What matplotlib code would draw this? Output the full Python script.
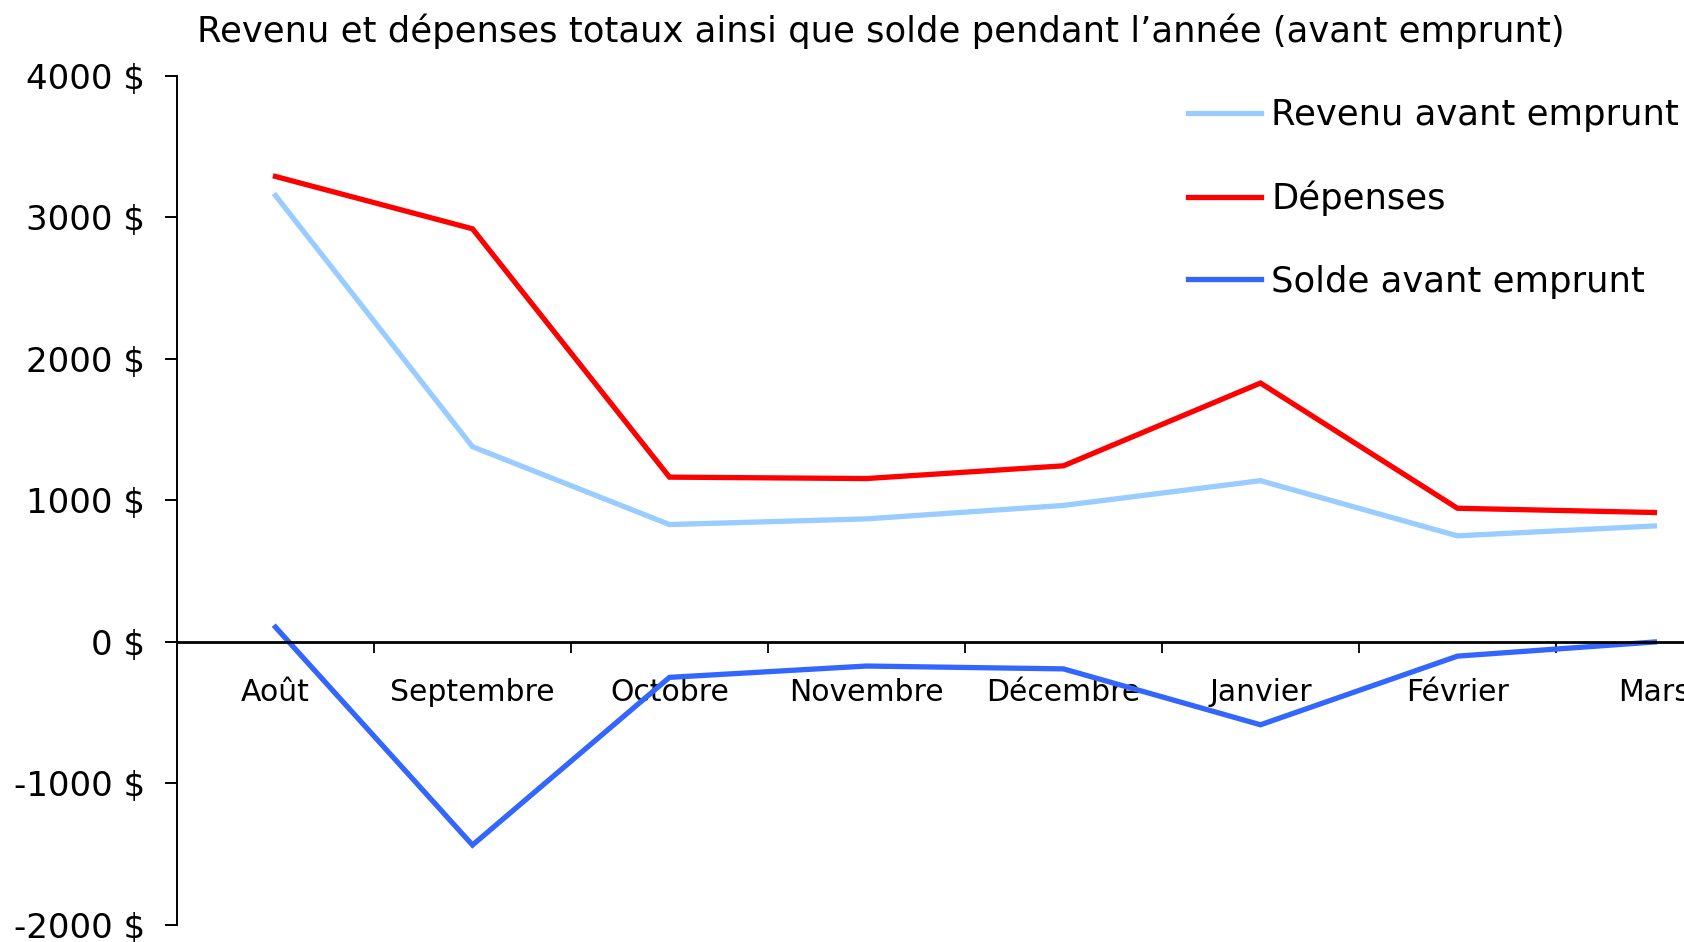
import matplotlib
matplotlib.use("Agg")
import matplotlib.pyplot as plt
from matplotlib.ticker import FixedLocator

mois = ["Août", "Septembre", "Octobre", "Novembre", "Décembre",
        "Janvier", "Février", "Mars"]
revenu = [3155, 1380, 830, 870, 965, 1140, 750, 820]
depenses = [3290, 2920, 1165, 1155, 1245, 1830, 945, 915]
solde = [105, -1435, -250, -170, -190, -585, -100, 0]
y_ticks = [-2000, -1000, 0, 1000, 2000, 3000, 4000]

plt.rcParams['font.family'] = ['DejaVu Sans']

fig = plt.figure(figsize=(16.84, 9.42), dpi=100)
ax = fig.add_axes([0.1051, 0.01805, 0.8949, 0.9013])

x = range(len(mois))
ax.plot(x, revenu, color="#99CCFF", lw=3.8, label="Revenu avant emprunt",
        solid_joinstyle="miter", clip_on=False)
ax.plot(x, depenses, color="#FF0000", lw=3.8, label="Dépenses",
        solid_joinstyle="miter", clip_on=False)
ax.plot(x, solde, color="#3366FF", lw=3.8, label="Solde avant emprunt",
        solid_joinstyle="miter", clip_on=False)

ax.set_xlim(-0.5, 7.15)
ax.set_ylim(-2000, 4000)

# axes style: left spine and a horizontal axis through zero
ax.spines['top'].set_visible(False)
ax.spines['right'].set_visible(False)
ax.spines['bottom'].set_position(('data', 0))
ax.spines['bottom'].set_linewidth(2.0)
ax.spines['left'].set_linewidth(1.4)

ax.set_yticks(y_ticks)
ax.set_yticklabels([f"{v} $" for v in y_ticks])
ax.tick_params(axis='y', length=9, width=1.4, pad=14, labelsize=24.5)

ax.set_xticks(list(x))
ax.set_xticklabels(mois)
ax.xaxis.set_minor_locator(FixedLocator([i + 0.5 for i in range(len(mois))]))
ax.tick_params(axis='x', which='major', length=0, pad=26, labelsize=21.5)
ax.tick_params(axis='x', which='minor', length=8, width=1.3)

fig.text(0.523, 0.9557,
         "Revenu et dépenses totaux ainsi que solde pendant l\u2019année (avant emprunt)",
         ha='center', va='baseline', fontsize=25.5)

ax.legend(loc='upper left', bbox_to_anchor=(1188 / 1684, 1 - 98 / 942),
          bbox_transform=fig.transFigure, frameon=False, fontsize=25.5,
          handlelength=2.05, handletextpad=0.3, labelspacing=1.37,
          borderpad=0, borderaxespad=0)

fig.savefig("out.png", dpi=100)
